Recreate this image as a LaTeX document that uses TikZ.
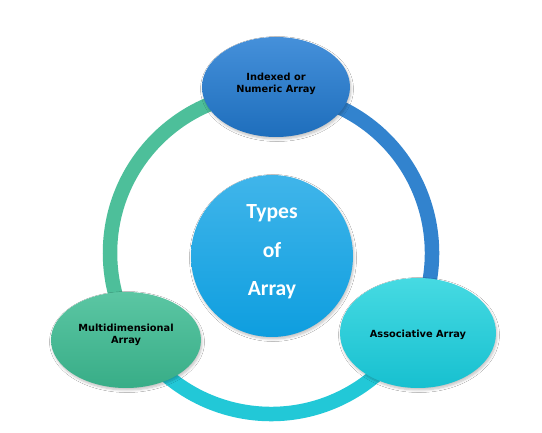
\documentclass[tikz,border=0pt]{standalone}
\usepackage{fontspec}
\newfontfamily\labfont{DejaVu Sans}
\newfontfamily\ctrfont{Carlito}
\usetikzlibrary{shapes.geometric,shadows.blur,calc}
\definecolor{ringgreen}{HTML}{4DBF9A}
\definecolor{ringblue}{HTML}{3283CE}
\definecolor{ringcyan}{HTML}{22C8D7}
\definecolor{topA}{HTML}{4590DA}
\definecolor{topB}{HTML}{1E6EBC}
\definecolor{leftA}{HTML}{5BC6A3}
\definecolor{leftB}{HTML}{38AD87}
\definecolor{rightA}{HTML}{46DAE2}
\definecolor{rightB}{HTML}{17C0D0}
\definecolor{ctrA}{HTML}{40B5EA}
\definecolor{ctrB}{HTML}{0E9EDF}
\begin{document}
\begin{tikzpicture}[x=1pt,y=1pt,
  ringarc/.style={line width=14.5pt},
  bubble/.style={ellipse, inner sep=0pt,
    blur shadow={shadow xshift=1pt, shadow yshift=-2pt, shadow blur steps=6, shadow opacity=25, shadow blur radius=2.5pt}},
  lab/.style={font=\labfont\bfseries\fontsize{9.8}{11.8}\selectfont, align=center, inner sep=0pt, text=black},
  ctrlab/.style={font=\ctrfont\bfseries\fontsize{21.6}{38.5}\selectfont, align=center, inner sep=0pt, text=white}]
\useasboundingbox[fill=white] (0,0) rectangle (542,432);
\coordinate (rc) at (271,179);
% ring connectors
\draw[ringarc, ringgreen] ([shift={(88:161)}]rc) arc[start angle=88, end angle=211, radius=161];
\draw[ringarc, ringcyan] ([shift={(211:161)}]rc) arc[start angle=211, end angle=331.5, radius=161];
\draw[ringarc, ringblue] ([shift={(331.5:161)}]rc) arc[start angle=331.5, end angle=448, radius=161];
% bubbles
\node[bubble, minimum width=148pt, minimum height=100pt, top color=topA, bottom color=topB] (idx) at (276,345) {};
\node[bubble, minimum width=150pt, minimum height=96pt, top color=leftA, bottom color=leftB] (multi) at (126,92) {};
\node[bubble, minimum width=156pt, minimum height=110pt, top color=rightA, bottom color=rightB] (assoc) at (418,99) {};
\node[bubble, circle, minimum size=162pt, top color=ctrA, bottom color=ctrB] (types) at (272,176) {};
% labels
\node[lab] (idxt) at ([yshift=3.5pt]idx.center) {Indexed or\\Numeric Array};
\node[lab] (multit) at ([yshift=5pt]multi.center) {Multidimensional\\Array};
\node[lab] (assoct) at ([yshift=-2pt]assoc.center) {Associative Array};
\node[ctrlab] (typest) at ([yshift=4pt]types.center) {Types\\of\\Array};
\end{tikzpicture}
\end{document}
